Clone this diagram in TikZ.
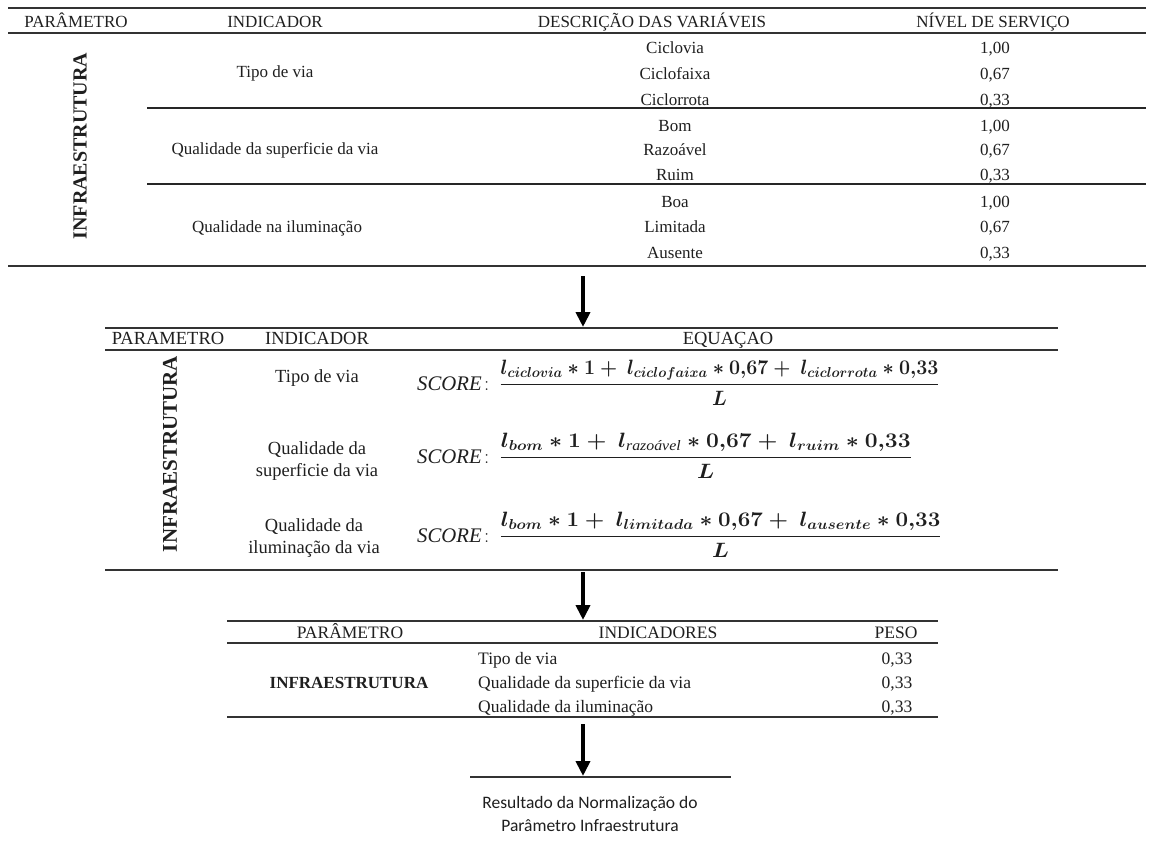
\documentclass[tikz,border=0pt]{standalone}
\usepackage{amsmath}
\usepackage{graphicx}
\usepackage{fontspec}
\setmainfont{Liberation Serif}
\newfontfamily\calfont{Carlito}
\usetikzlibrary{arrows.meta}
% score formula: label, then the fraction stretched horizontally by #1
\newcommand{\scoreeq}[2]{$\mathit{SCORE}\colon$\,\scalebox{#1}[1]{\boldmath$#2$}}

\begin{document}
\begin{tikzpicture}[x=1pt,y=-1pt,
  rule/.style={draw=black!80,line width=1.8pt},
  subrule/.style={draw=black!85,line width=1.3pt},
  flow/.style={draw=black,line width=4pt,-{Triangle[width=14pt,length=15pt]}},
  ta/.style={inner sep=0pt,text=black!88,font=\fontsize{17}{21}\selectfont},
  tb/.style={inner sep=0pt,text=black!88,font=\fontsize{18.5}{22}\selectfont,align=center},
  tc/.style={inner sep=0pt,text=black!88,font=\fontsize{17.5}{21}\selectfont},
  vert/.style={inner sep=0pt,text=black!88,rotate=90,font=\bfseries\fontsize{20}{22}\selectfont},
  eqn/.style={inner sep=0pt,anchor=base west,text=black!88,font=\fontsize{20.74}{24}\selectfont},
  res/.style={inner sep=0pt,anchor=base,text=black!88,font=\calfont\fontsize{17.5}{21}\selectfont}
]
\useasboundingbox[fill=white] (0,0) rectangle (1151,843);

% ---------- table 1: levels of service ----------
\draw[rule] (8,8) -- (1146,8);
\draw[rule] (8,33) -- (1146,33);
\draw[subrule] (147,108) -- (1146,108);
\draw[subrule] (147,184) -- (1146,184);
\draw[rule] (8,266) -- (1146,266);

\node[ta,anchor=base] (h1p) at (76,28) {PARÂMETRO};
\node[ta,anchor=base] (h1i) at (275,28) {INDICADOR};
\node[ta,anchor=base] (h1d) at (652,28) {DESCRIÇÃO DAS VARIÁVEIS};
\node[ta,anchor=base] (h1n) at (993,28) {NÍVEL DE SERVIÇO};

\node[vert] (v1) at (80,146) {INFRAESTRUTURA};

\node[ta] (i1a) at (275,73) {Tipo de via};
\node[ta] (i1b) at (275,150) {Qualidade da superficie da via};
\node[ta] (i1c) at (277,228) {Qualidade na iluminação};

\node[ta,anchor=base] (d1) at (675,54) {Ciclovia};
\node[ta,anchor=base] (d2) at (675,80) {Ciclofaixa};
\node[ta,anchor=base] (d3) at (675,105) {Ciclorrota};
\node[ta,anchor=base] (d4) at (675,131) {Bom};
\node[ta,anchor=base] (d5) at (675,155) {Razoável};
\node[ta,anchor=base] (d6) at (675,180) {Ruim};
\node[ta,anchor=base] (d7) at (675,207) {Boa};
\node[ta,anchor=base] (d8) at (675,232) {Limitada};
\node[ta,anchor=base] (d9) at (675,258) {Ausente};

\node[ta,anchor=base] (n1) at (995,54) {1,00};
\node[ta,anchor=base] (n2) at (995,80) {0,67};
\node[ta,anchor=base] (n3) at (995,105) {0,33};
\node[ta,anchor=base] (n4) at (995,131) {1,00};
\node[ta,anchor=base] (n5) at (995,155) {0,67};
\node[ta,anchor=base] (n6) at (995,180) {0,33};
\node[ta,anchor=base] (n7) at (995,207) {1,00};
\node[ta,anchor=base] (n8) at (995,232) {0,67};
\node[ta,anchor=base] (n9) at (995,258) {0,33};

% ---------- table 2: score equations ----------
\draw[rule] (105,328) -- (1058,328);
\draw[rule] (105,350) -- (1058,350);
\draw[rule] (105,570) -- (1058,570);

\node[tb,anchor=base] (h2p) at (168,344) {PARAMETRO};
\node[tb,anchor=base] (h2i) at (317,344) {INDICADOR};
\node[tb,anchor=base] (h2e) at (728,344) {EQUAÇAO};

\node[vert,font=\bfseries\fontsize{21}{22}\selectfont] (v2) at (170,454) {INFRAESTRUTURA};

\node[tb] (i2a) at (317,378) {Tipo de via};
\node[tb] (i2b) at (317,461) {Qualidade da\\superficie da via};
\node[tb] (i2c) at (314,538) {Qualidade da\\iluminação da via};

\node[eqn] (e1) at (417,390) {\scoreeq{0.946}{\dfrac{l_{ciclovia}\ast 1+\ l_{ciclofaixa}\ast 0{,}67+\ l_{ciclorrota}\ast 0{,}33}{L}}};
\node[eqn] (e2) at (417,463) {\scoreeq{1.1}{\dfrac{l_{bom}\ast 1+\ l_{\text{\mdseries\itshape razoável}}\ast 0{,}67+\ l_{ruim}\ast 0{,}33}{L}}};
\node[eqn] (e3) at (417,542) {\scoreeq{1.078}{\dfrac{l_{bom}\ast 1+\ l_{limitada}\ast 0{,}67+\ l_{ausente}\ast 0{,}33}{L}}};

% ---------- table 3: weights ----------
\draw[rule] (227,621) -- (938,621);
\draw[rule] (227,643) -- (938,643);
\draw[rule] (227,717) -- (938,717);

\node[tc,anchor=base] (h3p) at (350,638) {PARÂMETRO};
\node[tc,anchor=base] (h3i) at (658,638) {INDICADORES};
\node[tc,anchor=base] (h3w) at (896,638) {PESO};

\node[tc,font=\bfseries\fontsize{17}{21}\selectfont] (p3) at (349,683) {INFRAESTRUTURA};

\node[tc,anchor=base west] (k1) at (478,664) {Tipo de via};
\node[tc,anchor=base west] (k2) at (478,688) {Qualidade da superficie da via};
\node[tc,anchor=base west] (k3) at (478,712) {Qualidade da iluminação};

\node[tc,anchor=base] (w1) at (897,664) {0,33};
\node[tc,anchor=base] (w2) at (897,688) {0,33};
\node[tc,anchor=base] (w3) at (897,712) {0,33};

% ---------- result ----------
\draw[rule] (470,777) -- (731,777);
\node[res] (r1) at (590,808) {Resultado da Normalização do};
\node[res] (r2) at (590,831) {Parâmetro Infraestrutura};

% ---------- flow arrows ----------
\coordinate (a1s) at (583,276);
\coordinate (a1e) at (583,327);
\coordinate (a2s) at (583,572);
\coordinate (a2e) at (583,620);
\coordinate (a3s) at (583,724);
\coordinate (a3e) at (583,776);
\draw[flow] (a1s) -- (a1e);
\draw[flow] (a2s) -- (a2e);
\draw[flow] (a3s) -- (a3e);
\end{tikzpicture}
\end{document}
